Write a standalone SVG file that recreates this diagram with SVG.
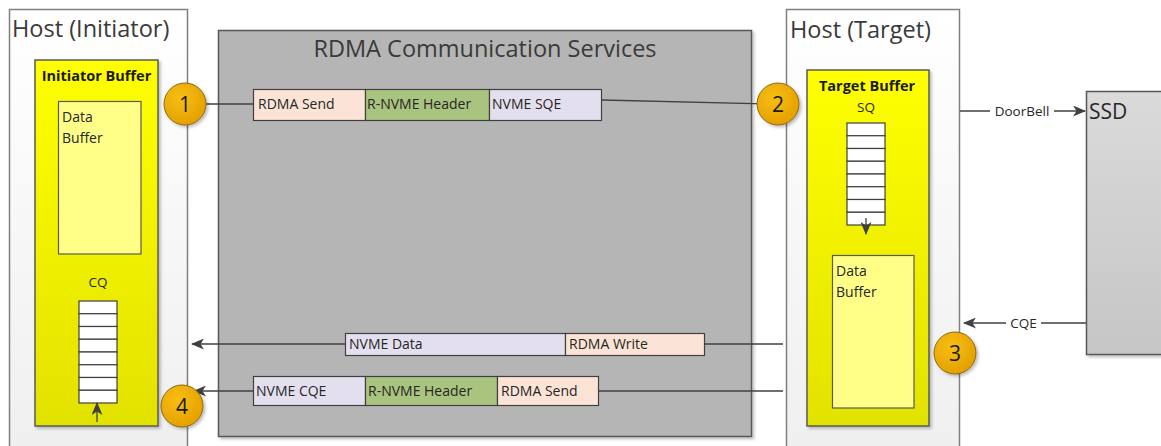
<svg xmlns="http://www.w3.org/2000/svg" width="1161" height="446" viewBox="0 0 1161 446">
<defs>
  <linearGradient id="hostGrad" x1="0" y1="0" x2="0" y2="1">
    <stop offset="0" stop-color="#FFFFFF"/>
    <stop offset="1" stop-color="#EFEFEF"/>
  </linearGradient>
  <linearGradient id="yellowGrad" x1="0" y1="0" x2="0" y2="1">
    <stop offset="0" stop-color="#FFFF00"/>
    <stop offset="1" stop-color="#E2E200"/>
  </linearGradient>
  <linearGradient id="ssdGrad" x1="0" y1="0" x2="0" y2="1">
    <stop offset="0" stop-color="#DADADA"/>
    <stop offset="1" stop-color="#C6C6C6"/>
  </linearGradient>
  <radialGradient id="circGrad" cx="0.4" cy="0.35" r="0.7">
    <stop offset="0" stop-color="#F8BF10"/>
    <stop offset="1" stop-color="#E39E00"/>
  </radialGradient>
  <filter id="shadow" x="-20%" y="-20%" width="150%" height="150%">
    <feDropShadow dx="2" dy="2" stdDeviation="1.5" flood-color="#000" flood-opacity="0.25"/>
  </filter>
  <marker id="arrow" markerWidth="13" markerHeight="11" refX="12" refY="5.5" orient="auto" markerUnits="userSpaceOnUse">
    <path d="M0,0 L13,5.5 L0,11 L3.5,5.5 z" fill="#404040"/>
  </marker>
  <style>
    .host { fill: url(#hostGrad); stroke: #7F7F7F; stroke-width: 1.5; }
    .buf { fill: url(#yellowGrad); stroke: #595959; stroke-width: 1.5; }
    .data { fill: #FFFF88; stroke: #595959; stroke-width: 1.2; }
    .cell { fill: #FFFFFF; stroke: #404040; stroke-width: 1.2; }
    .pkt { stroke: #404040; stroke-width: 1.2; }
    .peach { fill: #FBE4D5; }
    .green { fill: #A9C47F; }
    .lav { fill: #E4DFEE; }
    .conn { stroke: #404040; stroke-width: 1.3; fill: none; }
    .t { font-family: "Open Sans", "Liberation Sans", sans-serif; fill: #262626; }
    .title { font-size: 23.5px; fill: #3A3A3A; }
    .lbl { font-size: 14px; }
    .small { font-size: 13.5px; }
    .bold { font-weight: bold; font-size: 14.5px; fill: #1A1A1A; }
    .circ { fill: url(#circGrad); stroke: #8A6A10; stroke-width: 1; }
    .num { font-size: 21px; fill: #1A1A1A; }
  </style>
</defs>

<g id="host-initiator">
  <rect class="host" x="9.5" y="9.5" width="178" height="450"/>
  <text class="t title" x="12" y="37">Host (Initiator)</text>
  <g id="initiator-buffer">
    <rect class="buf" x="35" y="60" width="123" height="366" filter="url(#shadow)"/>
    <text class="t bold" x="96.5" y="81" text-anchor="middle">Initiator Buffer</text>
    <rect class="data" x="58.5" y="101.5" width="82.5" height="152.5"/>
    <text class="t lbl" x="62" y="122">Data</text>
    <text class="t lbl" x="62" y="143">Buffer</text>
    <text class="t small" x="98" y="287" text-anchor="middle">CQ</text>
    <g id="cq">
      <rect class="cell" x="79" y="301" width="38" height="12.75"/>
      <rect class="cell" x="79" y="313.75" width="38" height="12.75"/>
      <rect class="cell" x="79" y="326.5" width="38" height="12.75"/>
      <rect class="cell" x="79" y="339.25" width="38" height="12.75"/>
      <rect class="cell" x="79" y="352" width="38" height="12.75"/>
      <rect class="cell" x="79" y="364.75" width="38" height="12.75"/>
      <rect class="cell" x="79" y="377.5" width="38" height="12.75"/>
      <rect class="cell" x="79" y="390.25" width="38" height="12.75"/>
    </g>
  </g>
</g>

<g id="rdma-services">
  <rect x="218.5" y="30.5" width="533" height="406" fill="#B5B5B5" stroke="#595959" stroke-width="1.5" filter="url(#shadow)"/>
  <text class="t title" x="485" y="57" text-anchor="middle">RDMA Communication Services</text>
</g>

<g id="host-target">
  <rect class="host" x="786.5" y="9.5" width="173" height="450"/>
  <text class="t title" x="790" y="38">Host (Target)</text>
  <g id="target-buffer">
    <rect class="buf" x="807" y="70" width="122" height="356" filter="url(#shadow)"/>
    <text class="t bold" x="867" y="91" text-anchor="middle">Target Buffer</text>
    <text class="t small" x="866" y="112" text-anchor="middle">SQ</text>
    <g id="sq">
      <rect class="cell" x="847" y="123" width="38" height="12.75"/>
      <rect class="cell" x="847" y="135.75" width="38" height="12.75"/>
      <rect class="cell" x="847" y="148.5" width="38" height="12.75"/>
      <rect class="cell" x="847" y="161.25" width="38" height="12.75"/>
      <rect class="cell" x="847" y="174" width="38" height="12.75"/>
      <rect class="cell" x="847" y="186.75" width="38" height="12.75"/>
      <rect class="cell" x="847" y="199.5" width="38" height="12.75"/>
      <rect class="cell" x="847" y="212.25" width="38" height="12.75"/>
    </g>
    <rect class="data" x="832.5" y="255.5" width="81.5" height="152.5"/>
    <text class="t lbl" x="836" y="276">Data</text>
    <text class="t lbl" x="836" y="297">Buffer</text>
  </g>
</g>

<g id="ssd">
  <rect x="1086.5" y="91.5" width="90" height="263" fill="url(#ssdGrad)" stroke="#595959" stroke-width="1.5" filter="url(#shadow)"/>
  <text class="t" x="1089" y="119" font-size="21" fill="#262626">SSD</text>
</g>

<g id="packet-sq">
  <rect class="pkt peach" x="253.5" y="89.5" width="112" height="31"/>
  <rect class="pkt green" x="365.5" y="89.5" width="124" height="31"/>
  <rect class="pkt lav" x="489.5" y="89.5" width="112" height="31"/>
  <text class="t lbl" x="258" y="109">RDMA Send</text>
  <text class="t lbl" x="367" y="109">R-NVME Header</text>
  <text class="t lbl" x="492" y="109">NVME SQE</text>
</g>

<g id="packet-data">
  <rect class="pkt lav" x="345.5" y="333.5" width="220" height="22"/>
  <rect class="pkt peach" x="565.5" y="333.5" width="139" height="22"/>
  <text class="t lbl" x="349" y="349">NVME Data</text>
  <text class="t lbl" x="569" y="349">RDMA Write</text>
</g>

<g id="packet-cqe">
  <rect class="pkt lav" x="253.5" y="376.5" width="112" height="29"/>
  <rect class="pkt green" x="365.5" y="376.5" width="132" height="29"/>
  <rect class="pkt peach" x="497.5" y="376.5" width="101" height="29"/>
  <text class="t lbl" x="256" y="396">NVME CQE</text>
  <text class="t lbl" x="368" y="396">R-NVME Header</text>
  <text class="t lbl" x="501" y="396">RDMA Send</text>
</g>

<g id="connectors">
  <line class="conn" x1="190" y1="104" x2="253" y2="104"/>
  <line class="conn" x1="602" y1="100" x2="770" y2="104"/>
  <line class="conn" x1="960" y1="111" x2="1085" y2="111" marker-end="url(#arrow)"/>
  <line class="conn" x1="1086" y1="323" x2="964" y2="323" marker-end="url(#arrow)"/>
  <line class="conn" x1="783" y1="344" x2="705" y2="344"/>
  <line class="conn" x1="345" y1="344" x2="192" y2="344" marker-end="url(#arrow)"/>
  <line class="conn" x1="783" y1="391" x2="599" y2="391"/>
  <line class="conn" x1="253" y1="391" x2="194" y2="391" marker-end="url(#arrow)"/>
  <line class="conn" x1="866" y1="218" x2="866" y2="234" marker-end="url(#arrow)"/>
  <line class="conn" x1="97" y1="422" x2="97" y2="403" marker-end="url(#arrow)"/>
  <rect x="990" y="102" width="64" height="18" fill="#FFFFFF"/>
  <text class="t small" x="1022" y="116" text-anchor="middle" fill="#404040">DoorBell</text>
  <rect x="1006" y="314" width="35" height="18" fill="#FFFFFF"/>
  <text class="t small" x="1023.5" y="328" text-anchor="middle" fill="#404040">CQE</text>
</g>

<g id="step1">
  <circle class="circ" cx="185" cy="104" r="21" filter="url(#shadow)"/>
  <text class="t num" x="185" y="111.5" text-anchor="middle">1</text>
</g>
<g id="step2">
  <circle class="circ" cx="778" cy="104" r="21" filter="url(#shadow)"/>
  <text class="t num" x="778" y="111.5" text-anchor="middle">2</text>
</g>
<g id="step3">
  <circle class="circ" cx="955" cy="353" r="21" filter="url(#shadow)"/>
  <text class="t num" x="955" y="360.5" text-anchor="middle">3</text>
</g>
<g id="step4">
  <circle class="circ" cx="182" cy="406" r="21" filter="url(#shadow)"/>
  <text class="t num" x="182" y="413.5" text-anchor="middle">4</text>
</g>
</svg>
